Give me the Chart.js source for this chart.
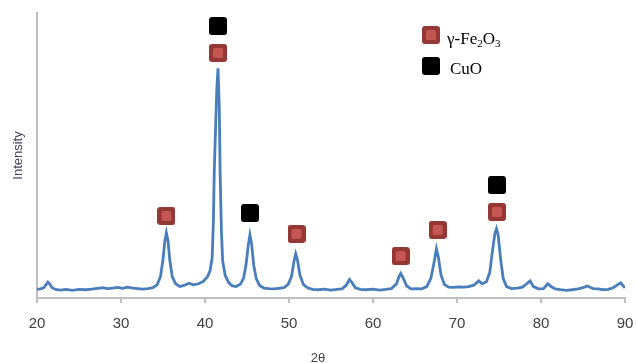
<!DOCTYPE html>
<html>
<head>
<meta charset="utf-8">
<script src="https://cdn.jsdelivr.net/npm/chart.js@4"></script>
<style>
  body { margin: 0; background: #fff; }
</style>
</head>
<body>
<canvas id="xrd" width="637" height="363"></canvas>
<script>
// diffractogram (2θ in degrees, intensity in arbitrary units)
const twoTheta = [
  20.0, 20.4, 20.8, 21.1, 21.3, 21.5, 21.8, 22.2, 22.8, 23.5, 24.2, 25.0, 25.8, 26.5, 27.2, 27.8,
  28.4, 29.0, 29.6, 30.2, 30.8, 31.4, 32.0, 32.6, 33.2, 33.8, 34.3, 34.7, 35.0, 35.2, 35.4, 35.6,
  35.8, 36.1, 36.5, 37.0, 37.5, 38.1, 38.6, 39.2, 39.8, 40.3, 40.6, 40.85, 41.0, 41.1, 41.25, 41.4,
  41.55, 41.7, 41.8, 41.95, 42.1, 42.4, 42.8, 43.2, 43.7, 44.2, 44.6, 44.9, 45.15, 45.35, 45.55, 45.8,
  46.1, 46.5, 47.0, 47.6, 48.2, 48.8, 49.4, 49.9, 50.3, 50.6, 50.8, 51.0, 51.3, 51.7, 52.2, 52.8,
  53.5, 54.2, 55.0, 55.7, 56.3, 56.8, 57.2, 57.5, 57.9, 58.5, 59.2, 60.0, 60.8, 61.5, 62.2, 62.8,
  63.1, 63.3, 63.6, 64.0, 64.5, 65.2, 65.8, 66.4, 66.9, 67.3, 67.55, 67.8, 68.1, 68.5, 69.0, 69.6,
  70.2, 70.8, 71.4, 72.0, 72.6, 73.0, 73.5, 73.9, 74.2, 74.5, 74.7, 74.9, 75.2, 75.5, 75.9, 76.5,
  77.2, 77.8, 78.3, 78.7, 79.1, 79.7, 80.3, 80.8, 81.2, 81.7, 82.3, 83.0, 83.7, 84.4, 85.0, 85.5,
  86.2, 86.8, 87.4, 88.0, 88.6, 89.1, 89.5, 89.8, 90.0
];
const intensity = [
  3.0, 3.2, 3.6, 4.8, 5.6, 5.0, 3.6, 3.0, 2.8, 3.0, 2.7, 3.0, 2.9, 3.1, 3.4, 3.6,
  3.3, 3.5, 3.7, 3.4, 3.8, 3.5, 3.3, 3.1, 3.3, 3.6, 4.6, 7.5, 13.5, 19.5, 22.9, 20.0,
  13.5, 7.5, 5.0, 4.0, 4.4, 5.2, 4.6, 5.0, 5.8, 7.5, 9.5, 14.0, 27.0, 44.0, 59.0, 73.0,
  80.6, 67.0, 44.0, 24.0, 13.0, 8.0, 5.5, 4.3, 4.0, 4.8, 7.0, 12.0, 18.5, 22.2, 19.0, 11.5,
  6.8, 4.4, 3.5, 3.3, 3.2, 3.4, 3.6, 4.8, 7.5, 13.0, 15.5, 13.5, 8.0, 4.8, 3.6, 3.0,
  2.9, 3.1, 2.8, 3.0, 3.2, 4.4, 6.5, 5.4, 3.6, 3.0, 2.9, 3.1, 2.8, 3.0, 3.3, 5.0,
  7.5, 8.6, 7.0, 4.3, 3.2, 3.3, 3.2, 4.0, 7.0, 13.0, 17.3, 14.0, 8.0, 4.8, 3.8, 3.7,
  3.9, 3.8, 4.0, 4.5, 6.0, 5.0, 5.7, 9.0, 16.0, 22.5, 24.3, 22.0, 13.5, 6.8, 4.0, 3.3,
  3.5, 3.8, 5.0, 6.0, 4.0, 3.2, 3.3, 5.0, 4.0, 3.2, 2.9, 2.7, 2.9, 3.2, 3.6, 4.2,
  3.3, 3.2, 2.9, 3.0, 3.6, 4.6, 5.3, 4.2, 3.6
];

// phase markers placed above the peaks
const feX = [35.4, 41.55, 50.9, 63.3, 67.7, 74.75];
const feY = [28.8, 86.0, 22.5, 14.7, 23.9, 30.2];
const cuoX = [41.55, 45.35, 74.75];
const cuoY = [95.4, 29.8, 39.6];

const xTicks = [20, 30, 40, 50, 60, 70, 80, 90];

function makeMarker(outer, inner) {
    const c = document.createElement('canvas');
    c.width = 18;
    c.height = 18;
    const g = c.getContext('2d');
    g.fillStyle = outer;
    g.beginPath();
    g.roundRect(0, 0, 18, 18, 3);
    g.fill();
    if (inner) {
        g.fillStyle = inner;
        g.beginPath();
        g.roundRect(4, 4, 10, 10, 1.5);
        g.fill();
    }
    return c;
}

const redMark = makeMarker('#953735', '#C65653');
const blackMark = makeMarker('#000000');

const extras = {
    id: 'extras',
    afterDraw: (chart) => {
        const { ctx } = chart;
        ctx.save();
        // legend
        ctx.drawImage(redMark, 422, 26);
        ctx.drawImage(blackMark, 422, 57);
        ctx.fillStyle = '#000';
        ctx.textBaseline = 'alphabetic';
        ctx.font = '17px "Liberation Serif"';
        let x = 447;
        ctx.fillText('γ-Fe', x, 44);
        x += ctx.measureText('γ-Fe').width;
        ctx.font = '11px "Liberation Serif"';
        ctx.fillText('2', x, 47);
        x += ctx.measureText('2').width;
        ctx.font = '17px "Liberation Serif"';
        ctx.fillText('O', x, 44);
        x += ctx.measureText('O').width;
        ctx.font = '11px "Liberation Serif"';
        ctx.fillText('3', x, 47);
        ctx.font = '17px "Liberation Serif"';
        ctx.fillText('CuO', 450, 74);
        // x axis title
        ctx.font = '13px "Liberation Sans"';
        ctx.fillStyle = '#404040';
        ctx.textAlign = 'center';
        ctx.fillText('2θ', 318, 362);
        ctx.restore();
    },
};

Chart.defaults.font.family = '"Liberation Sans"';

new Chart(document.getElementById('xrd'), {
    type: 'scatter',
    data: {
        datasets: [
            {
                type: 'line',
                data: twoTheta.map((t, i) => ({ x: t, y: intensity[i] })),
                borderColor: '#4A7EBB',
                borderWidth: 2.8,
                pointRadius: 0,
                tension: 0,
                fill: false,
            },
            {
                data: feX.map((t, i) => ({ x: t, y: feY[i] })),
                pointStyle: redMark,
                pointRadius: 9,
            },
            {
                data: cuoX.map((t, i) => ({ x: t, y: cuoY[i] })),
                pointStyle: blackMark,
                pointRadius: 9,
            },
        ],
    },
    options: {
        responsive: false,
        animation: false,
        layout: {
            padding: { top: 13, right: 12, left: 0, bottom: 0 },
        },
        plugins: {
            legend: false,
            tooltip: { enabled: false },
        },
        scales: {
            x: {
                type: 'linear',
                min: 20,
                max: 90,
                afterBuildTicks: (s) => { s.ticks = xTicks.map((v) => ({ value: v })); },
                afterFit: (s) => {
                    s.height = 65;
                    s.paddingRight = 0;
                    s.paddingLeft = 0;
                },
                grid: {
                    drawOnChartArea: false,
                    tickLength: 5,
                    color: '#BFBFBF',
                    lineWidth: 2,
                },
                border: { color: '#BFBFBF', width: 2 },
                ticks: {
                    padding: 12,
                    color: '#404040',
                    font: { size: 15 },
                    maxRotation: 0,
                },
            },
            y: {
                min: 0,
                max: 100,
                afterFit: (s) => { s.width = 37; },
                grid: { drawOnChartArea: false, drawTicks: false },
                border: { color: '#BFBFBF', width: 2 },
                ticks: { display: false },
                title: {
                    display: true,
                    text: 'Intensity',
                    color: '#404060',
                    font: { size: 13 },
                    padding: { top: 11, bottom: 0 },
                },
            },
        },
    },
    plugins: [extras],
});
</script>
</body>
</html>
